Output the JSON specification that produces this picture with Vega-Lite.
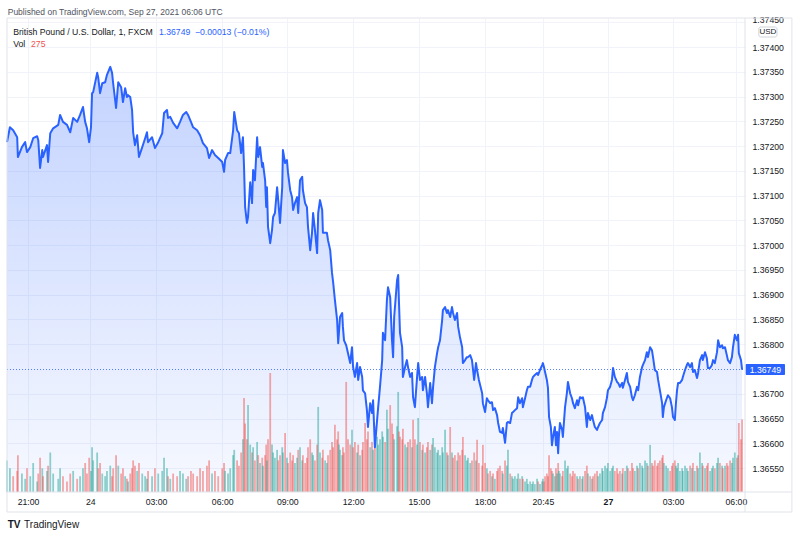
{
"$schema":"https://vega.github.io/schema/vega-lite/v6.json",
"width":738,"height":474,
"autosize":{"type":"none"},
"padding":{"left":7,"top":18,"right":55,"bottom":46},
"background":"#ffffff",
"config":{"view":{"stroke":null},"font":"Liberation Sans"},
"datasets":{"gbp":[
{"b":-58,"p":1.37208,"v":120,"u":1},{"b":-50,"p":1.37238,"v":90,"u":1},{"b":-41,"p":1.37232,"v":60,"u":0},{"b":-30,"p":1.37218,"v":80,"u":0},{"b":-28,"p":1.37178,"v":140,"u":0},{"b":-17,"p":1.37198,"v":70,"u":1},{"b":-8,"p":1.37208,"v":50,"u":1},{"b":-3,"p":1.37188,"v":90,"u":0},{"b":6,"p":1.37198,"v":60,"u":1},{"b":14,"p":1.37216,"v":110,"u":1},
{"b":25,"p":1.3722,"v":40,"u":1},{"b":28,"p":1.37212,"v":70,"u":0},{"b":33,"p":1.37156,"v":130,"u":0},{"b":39,"p":1.37192,"v":90,"u":1},{"b":41,"p":1.37178,"v":60,"u":0},{"b":52,"p":1.37202,"v":80,"u":1},{"b":55,"p":1.37168,"v":100,"u":0},{"b":61,"p":1.37226,"v":150,"u":1},{"b":69,"p":1.37236,"v":70,"u":1},{"b":83,"p":1.37243,"v":50,"u":1},
{"b":88,"p":1.37263,"v":90,"u":1},{"b":96,"p":1.37249,"v":60,"u":0},{"b":107,"p":1.37243,"v":40,"u":0},{"b":116,"p":1.37228,"v":70,"u":0},{"b":124,"p":1.37257,"v":80,"u":1},{"b":135,"p":1.37249,"v":50,"u":0},{"b":143,"p":1.37263,"v":60,"u":1},{"b":151,"p":1.37279,"v":90,"u":1},{"b":157,"p":1.37249,"v":110,"u":0},{"b":162,"p":1.37236,"v":70,"u":0},
{"b":168,"p":1.37208,"v":130,"u":0},{"b":173,"p":1.37238,"v":80,"u":1},{"b":176,"p":1.37307,"v":170,"u":1},{"b":179,"p":1.37309,"v":120,"u":1},{"b":190,"p":1.37348,"v":150,"u":1},{"b":193,"p":1.37338,"v":90,"u":0},{"b":198,"p":1.37307,"v":110,"u":0},{"b":204,"p":1.37327,"v":70,"u":1},{"b":212,"p":1.37329,"v":60,"u":1},{"b":217,"p":1.37344,"v":80,"u":1},
{"b":226,"p":1.3736,"v":100,"u":1},{"b":231,"p":1.37348,"v":60,"u":0},{"b":234,"p":1.37327,"v":90,"u":0},{"b":242,"p":1.37277,"v":140,"u":0},{"b":248,"p":1.37329,"v":100,"u":1},{"b":256,"p":1.37319,"v":70,"u":0},{"b":261,"p":1.37289,"v":90,"u":0},{"b":267,"p":1.37317,"v":60,"u":1},{"b":272,"p":1.37299,"v":50,"u":0},{"b":275,"p":1.37303,"v":40,"u":1},
{"b":281,"p":1.37299,"v":70,"u":0},{"b":286,"p":1.37273,"v":90,"u":0},{"b":289,"p":1.37228,"v":120,"u":0},{"b":294,"p":1.37202,"v":100,"u":0},{"b":300,"p":1.37222,"v":80,"u":1},{"b":305,"p":1.37178,"v":110,"u":0},{"b":314,"p":1.37198,"v":70,"u":1},{"b":322,"p":1.37216,"v":60,"u":1},{"b":327,"p":1.37228,"v":50,"u":1},{"b":330,"p":1.37208,"v":80,"u":0},
{"b":341,"p":1.37218,"v":60,"u":1},{"b":349,"p":1.37196,"v":90,"u":0},{"b":358,"p":1.37208,"v":70,"u":1},{"b":369,"p":1.37226,"v":80,"u":1},{"b":374,"p":1.37267,"v":130,"u":1},{"b":382,"p":1.37273,"v":90,"u":1},{"b":385,"p":1.37257,"v":60,"u":0},{"b":391,"p":1.37259,"v":50,"u":1},{"b":399,"p":1.37247,"v":70,"u":0},{"b":410,"p":1.37236,"v":60,"u":0},
{"b":418,"p":1.37249,"v":80,"u":1},{"b":426,"p":1.37263,"v":70,"u":1},{"b":435,"p":1.37269,"v":50,"u":1},{"b":440,"p":1.37263,"v":60,"u":0},{"b":448,"p":1.37249,"v":80,"u":0},{"b":454,"p":1.37238,"v":70,"u":0},{"b":465,"p":1.37232,"v":60,"u":0},{"b":473,"p":1.37222,"v":90,"u":0},{"b":481,"p":1.37206,"v":80,"u":0},{"b":492,"p":1.37196,"v":100,"u":0},
{"b":498,"p":1.37176,"v":120,"u":0},{"b":506,"p":1.37192,"v":70,"u":1},{"b":514,"p":1.37182,"v":80,"u":0},{"b":523,"p":1.37176,"v":60,"u":0},{"b":534,"p":1.37168,"v":90,"u":0},{"b":539,"p":1.37148,"v":110,"u":0},{"b":542,"p":1.37172,"v":80,"u":1},{"b":550,"p":1.37186,"v":70,"u":1},{"b":556,"p":1.37186,"v":90,"u":1},{"b":564,"p":1.37232,"v":140,"u":1},
{"b":567,"p":1.37269,"v":160,"u":1},{"b":575,"p":1.37232,"v":120,"u":0},{"b":580,"p":1.37226,"v":100,"u":0},{"b":586,"p":1.37186,"v":150,"u":0},{"b":591,"p":1.37218,"v":200,"u":1},{"b":594,"p":1.37158,"v":357,"u":0},{"b":597,"p":1.37077,"v":260,"u":0},{"b":602,"p":1.37045,"v":200,"u":0},{"b":605,"p":1.37057,"v":330,"u":1},{"b":611,"p":1.37127,"v":180,"u":1},
{"b":616,"p":1.37085,"v":150,"u":0},{"b":619,"p":1.37152,"v":170,"u":1},{"b":624,"p":1.37131,"v":120,"u":0},{"b":630,"p":1.37218,"v":190,"u":1},{"b":633,"p":1.37178,"v":140,"u":0},{"b":638,"p":1.37198,"v":110,"u":1},{"b":644,"p":1.37158,"v":130,"u":0},{"b":646,"p":1.37166,"v":100,"u":1},{"b":652,"p":1.37131,"v":140,"u":0},{"b":655,"p":1.37077,"v":180,"u":0},
{"b":657,"p":1.37117,"v":120,"u":1},{"b":660,"p":1.37037,"v":200,"u":0},{"b":666,"p":1.37004,"v":452,"u":0},{"b":671,"p":1.37031,"v":180,"u":1},{"b":674,"p":1.37057,"v":150,"u":1},{"b":679,"p":1.37065,"v":130,"u":1},{"b":685,"p":1.37117,"v":160,"u":1},{"b":688,"p":1.37091,"v":120,"u":0},{"b":693,"p":1.37045,"v":140,"u":0},{"b":699,"p":1.37117,"v":170,"u":1},
{"b":701,"p":1.37192,"v":150,"u":1},{"b":707,"p":1.37166,"v":224,"u":0},{"b":712,"p":1.37172,"v":130,"u":1},{"b":715,"p":1.37146,"v":110,"u":0},{"b":721,"p":1.37111,"v":150,"u":0},{"b":726,"p":1.37097,"v":120,"u":0},{"b":729,"p":1.37071,"v":140,"u":0},{"b":734,"p":1.37085,"v":110,"u":1},{"b":740,"p":1.37097,"v":130,"u":1},{"b":743,"p":1.37065,"v":160,"u":0},
{"b":748,"p":1.37131,"v":170,"u":1},{"b":754,"p":1.37138,"v":120,"u":1},{"b":756,"p":1.37111,"v":140,"u":0},{"b":762,"p":1.37085,"v":110,"u":0},{"b":767,"p":1.37077,"v":130,"u":0},{"b":770,"p":1.37037,"v":170,"u":0},{"b":776,"p":1.3699,"v":200,"u":0},{"b":781,"p":1.37025,"v":150,"u":1},{"b":784,"p":1.37065,"v":140,"u":1},{"b":789,"p":1.37031,"v":120,"u":0},
{"b":795,"p":1.36984,"v":180,"u":0},{"b":798,"p":1.37065,"v":323,"u":1},{"b":803,"p":1.37091,"v":150,"u":1},{"b":809,"p":1.37071,"v":130,"u":0},{"b":811,"p":1.37025,"v":160,"u":0},{"b":817,"p":1.37025,"v":120,"u":1},{"b":822,"p":1.37025,"v":110,"u":1},{"b":825,"p":1.3701,"v":140,"u":0},{"b":831,"p":1.3699,"v":160,"u":0},{"b":836,"p":1.36944,"v":190,"u":0},
{"b":839,"p":1.36926,"v":170,"u":0},{"b":844,"p":1.36889,"v":255,"u":0},{"b":850,"p":1.36849,"v":200,"u":0},{"b":853,"p":1.36802,"v":230,"u":0},{"b":855,"p":1.36823,"v":180,"u":1},{"b":858,"p":1.36855,"v":160,"u":1},{"b":864,"p":1.36863,"v":140,"u":1},{"b":866,"p":1.36835,"v":170,"u":0},{"b":869,"p":1.36808,"v":150,"u":0},{"b":875,"p":1.36798,"v":418,"u":0},
{"b":880,"p":1.36782,"v":200,"u":0},{"b":886,"p":1.36762,"v":180,"u":0},{"b":891,"p":1.36794,"v":236,"u":1},{"b":894,"p":1.36754,"v":170,"u":0},{"b":899,"p":1.36734,"v":190,"u":0},{"b":905,"p":1.36762,"v":150,"u":1},{"b":908,"p":1.36728,"v":180,"u":0},{"b":913,"p":1.36754,"v":140,"u":1},{"b":919,"p":1.36734,"v":160,"u":0},{"b":921,"p":1.36707,"v":190,"u":0},
{"b":927,"p":1.36701,"v":262,"u":0},{"b":932,"p":1.36667,"v":200,"u":0},{"b":935,"p":1.36633,"v":230,"u":0},{"b":941,"p":1.36681,"v":170,"u":1},{"b":946,"p":1.36661,"v":190,"u":0},{"b":949,"p":1.36687,"v":160,"u":1},{"b":954,"p":1.36592,"v":250,"u":0},{"b":960,"p":1.36647,"v":210,"u":1},{"b":963,"p":1.36673,"v":180,"u":1},{"b":968,"p":1.36714,"v":200,"u":1},
{"b":974,"p":1.36768,"v":230,"u":1},{"b":976,"p":1.36823,"v":210,"u":1},{"b":982,"p":1.36808,"v":190,"u":0},{"b":987,"p":1.36889,"v":312,"u":1},{"b":990,"p":1.36915,"v":240,"u":1},{"b":996,"p":1.36895,"v":330,"u":0},{"b":1001,"p":1.36808,"v":260,"u":0},{"b":1004,"p":1.36774,"v":220,"u":0},{"b":1007,"p":1.36855,"v":200,"u":1},{"b":1015,"p":1.3693,"v":250,"u":1},
{"b":1018,"p":1.3694,"v":380,"u":1},{"b":1020,"p":1.36889,"v":230,"u":0},{"b":1023,"p":1.36823,"v":210,"u":0},{"b":1029,"p":1.36794,"v":200,"u":0},{"b":1031,"p":1.36734,"v":240,"u":0},{"b":1037,"p":1.36754,"v":180,"u":1},{"b":1042,"p":1.36768,"v":170,"u":1},{"b":1045,"p":1.36754,"v":190,"u":0},{"b":1051,"p":1.36734,"v":200,"u":0},{"b":1056,"p":1.36742,"v":170,"u":1},
{"b":1059,"p":1.36693,"v":274,"u":0},{"b":1064,"p":1.36673,"v":200,"u":0},{"b":1070,"p":1.36734,"v":180,"u":1},{"b":1073,"p":1.36762,"v":281,"u":1},{"b":1078,"p":1.36728,"v":190,"u":0},{"b":1084,"p":1.36734,"v":160,"u":1},{"b":1086,"p":1.36707,"v":180,"u":0},{"b":1092,"p":1.36734,"v":150,"u":1},{"b":1097,"p":1.36701,"v":170,"u":0},{"b":1100,"p":1.36673,"v":190,"u":0},
{"b":1106,"p":1.36722,"v":160,"u":1},{"b":1111,"p":1.36681,"v":180,"u":0},{"b":1114,"p":1.36714,"v":205,"u":1},{"b":1119,"p":1.36754,"v":170,"u":1},{"b":1125,"p":1.36782,"v":150,"u":1},{"b":1128,"p":1.36794,"v":160,"u":1},{"b":1133,"p":1.36808,"v":140,"u":1},{"b":1139,"p":1.36849,"v":170,"u":1},{"b":1141,"p":1.36869,"v":150,"u":1},{"b":1147,"p":1.36875,"v":236,"u":1},
{"b":1152,"p":1.36863,"v":150,"u":0},{"b":1155,"p":1.36869,"v":140,"u":1},{"b":1161,"p":1.36855,"v":247,"u":0},{"b":1166,"p":1.36875,"v":150,"u":1},{"b":1169,"p":1.36863,"v":130,"u":0},{"b":1174,"p":1.36849,"v":140,"u":0},{"b":1180,"p":1.36863,"v":120,"u":1},{"b":1183,"p":1.36835,"v":150,"u":0},{"b":1188,"p":1.36814,"v":140,"u":0},{"b":1194,"p":1.36794,"v":160,"u":0},
{"b":1196,"p":1.36762,"v":209,"u":0},{"b":1202,"p":1.36768,"v":140,"u":1},{"b":1207,"p":1.36774,"v":120,"u":1},{"b":1210,"p":1.36774,"v":130,"u":1},{"b":1216,"p":1.36778,"v":110,"u":1},{"b":1221,"p":1.36768,"v":120,"u":0},{"b":1227,"p":1.36728,"v":150,"u":0},{"b":1232,"p":1.36762,"v":120,"u":1},{"b":1235,"p":1.36748,"v":198,"u":0},{"b":1240,"p":1.36728,"v":110,"u":0},
{"b":1249,"p":1.36701,"v":100,"u":0},{"b":1251,"p":1.36681,"v":179,"u":0},{"b":1257,"p":1.36663,"v":110,"u":0},{"b":1262,"p":1.36691,"v":90,"u":1},{"b":1265,"p":1.36687,"v":70,"u":0},{"b":1271,"p":1.36681,"v":80,"u":0},{"b":1276,"p":1.36683,"v":60,"u":1},{"b":1279,"p":1.36667,"v":70,"u":0},{"b":1284,"p":1.36671,"v":50,"u":1},{"b":1290,"p":1.36657,"v":80,"u":0},
{"b":1293,"p":1.36641,"v":90,"u":0},{"b":1298,"p":1.36623,"v":100,"u":0},{"b":1304,"p":1.36621,"v":80,"u":0},{"b":1306,"p":1.36631,"v":70,"u":1},{"b":1312,"p":1.36601,"v":120,"u":0},{"b":1317,"p":1.36641,"v":100,"u":1},{"b":1320,"p":1.36643,"v":160,"u":1},{"b":1326,"p":1.36641,"v":70,"u":0},{"b":1331,"p":1.36661,"v":60,"u":1},{"b":1334,"p":1.36663,"v":50,"u":1},
{"b":1339,"p":1.36667,"v":60,"u":1},{"b":1345,"p":1.36671,"v":50,"u":1},{"b":1348,"p":1.36693,"v":70,"u":1},{"b":1353,"p":1.36681,"v":50,"u":0},{"b":1359,"p":1.36691,"v":60,"u":1},{"b":1361,"p":1.36673,"v":50,"u":0},{"b":1367,"p":1.36691,"v":40,"u":1},{"b":1372,"p":1.36707,"v":50,"u":1},{"b":1375,"p":1.36714,"v":30,"u":1},{"b":1381,"p":1.36714,"v":40,"u":1},
{"b":1386,"p":1.36728,"v":30,"u":1},{"b":1389,"p":1.36734,"v":40,"u":1},{"b":1394,"p":1.36738,"v":30,"u":1},{"b":1400,"p":1.36742,"v":50,"u":1},{"b":1403,"p":1.36738,"v":40,"u":0},{"b":1408,"p":1.36748,"v":30,"u":1},{"b":1414,"p":1.36758,"v":40,"u":1},{"b":1416,"p":1.36762,"v":50,"u":1},{"b":1419,"p":1.36754,"v":40,"u":0},{"b":1422,"p":1.36744,"v":60,"u":0},
{"b":1427,"p":1.36728,"v":70,"u":0},{"b":1430,"p":1.36712,"v":60,"u":0},{"b":1433,"p":1.36653,"v":140,"u":0},{"b":1438,"p":1.36633,"v":90,"u":0},{"b":1441,"p":1.36596,"v":80,"u":0},{"b":1444,"p":1.36613,"v":70,"u":1},{"b":1449,"p":1.36633,"v":60,"u":1},{"b":1452,"p":1.36596,"v":90,"u":0},{"b":1455,"p":1.36623,"v":70,"u":1},{"b":1458,"p":1.3658,"v":110,"u":0},
{"b":1460,"p":1.36613,"v":80,"u":1},{"b":1463,"p":1.36641,"v":70,"u":1},{"b":1469,"p":1.36627,"v":60,"u":0},{"b":1471,"p":1.36613,"v":80,"u":0},{"b":1477,"p":1.36673,"v":120,"u":1},{"b":1482,"p":1.36701,"v":90,"u":1},{"b":1485,"p":1.36724,"v":100,"u":1},{"b":1491,"p":1.36701,"v":70,"u":0},{"b":1496,"p":1.36691,"v":60,"u":0},{"b":1499,"p":1.36681,"v":80,"u":0},
{"b":1504,"p":1.36671,"v":70,"u":0},{"b":1510,"p":1.36687,"v":60,"u":1},{"b":1513,"p":1.36677,"v":50,"u":0},{"b":1518,"p":1.36693,"v":60,"u":1},{"b":1524,"p":1.36691,"v":50,"u":0},{"b":1526,"p":1.36693,"v":60,"u":1},{"b":1532,"p":1.36673,"v":80,"u":0},{"b":1537,"p":1.36633,"v":100,"u":0},{"b":1540,"p":1.36661,"v":70,"u":1},{"b":1546,"p":1.36647,"v":60,"u":0},
{"b":1551,"p":1.36657,"v":50,"u":1},{"b":1554,"p":1.36647,"v":60,"u":0},{"b":1559,"p":1.36633,"v":70,"u":0},{"b":1565,"p":1.36627,"v":80,"u":0},{"b":1568,"p":1.36633,"v":60,"u":1},{"b":1573,"p":1.36641,"v":70,"u":1},{"b":1579,"p":1.36647,"v":90,"u":1},{"b":1581,"p":1.36661,"v":80,"u":1},{"b":1587,"p":1.36673,"v":100,"u":1},{"b":1592,"p":1.36691,"v":90,"u":1},
{"b":1595,"p":1.36707,"v":110,"u":1},{"b":1601,"p":1.36714,"v":80,"u":1},{"b":1606,"p":1.36728,"v":90,"u":1},{"b":1609,"p":1.36752,"v":100,"u":1},{"b":1614,"p":1.36734,"v":80,"u":0},{"b":1620,"p":1.36724,"v":90,"u":0},{"b":1623,"p":1.36722,"v":70,"u":0},{"b":1628,"p":1.36714,"v":80,"u":0},{"b":1634,"p":1.36722,"v":70,"u":1},{"b":1636,"p":1.36712,"v":90,"u":0},
{"b":1642,"p":1.36728,"v":80,"u":1},{"b":1647,"p":1.36742,"v":100,"u":1},{"b":1650,"p":1.36724,"v":90,"u":0},{"b":1656,"p":1.36714,"v":80,"u":0},{"b":1661,"p":1.36693,"v":110,"u":0},{"b":1664,"p":1.36687,"v":90,"u":0},{"b":1669,"p":1.36697,"v":80,"u":1},{"b":1675,"p":1.36714,"v":100,"u":1},{"b":1678,"p":1.36707,"v":90,"u":0},{"b":1683,"p":1.36734,"v":110,"u":1},
{"b":1689,"p":1.36754,"v":100,"u":1},{"b":1691,"p":1.36758,"v":90,"u":1},{"b":1697,"p":1.36768,"v":120,"u":1},{"b":1702,"p":1.36784,"v":110,"u":1},{"b":1705,"p":1.36774,"v":100,"u":0},{"b":1711,"p":1.36794,"v":179,"u":1},{"b":1716,"p":1.36788,"v":110,"u":0},{"b":1719,"p":1.36774,"v":100,"u":0},{"b":1724,"p":1.36748,"v":120,"u":0},{"b":1730,"p":1.36744,"v":100,"u":0},
{"b":1733,"p":1.36728,"v":110,"u":0},{"b":1738,"p":1.36707,"v":120,"u":0},{"b":1744,"p":1.36681,"v":130,"u":0},{"b":1746,"p":1.36653,"v":140,"u":0},{"b":1749,"p":1.36673,"v":110,"u":1},{"b":1755,"p":1.36687,"v":100,"u":1},{"b":1760,"p":1.36697,"v":90,"u":1},{"b":1766,"p":1.36691,"v":80,"u":0},{"b":1771,"p":1.36673,"v":100,"u":0},{"b":1774,"p":1.36653,"v":110,"u":0},
{"b":1779,"p":1.36647,"v":120,"u":0},{"b":1782,"p":1.36681,"v":100,"u":1},{"b":1785,"p":1.36707,"v":90,"u":1},{"b":1788,"p":1.36722,"v":110,"u":1},{"b":1793,"p":1.36722,"v":80,"u":1},{"b":1799,"p":1.36728,"v":90,"u":1},{"b":1801,"p":1.36734,"v":80,"u":1},{"b":1807,"p":1.36748,"v":100,"u":1},{"b":1812,"p":1.36758,"v":90,"u":1},{"b":1815,"p":1.36762,"v":80,"u":1},
{"b":1821,"p":1.36754,"v":100,"u":0},{"b":1826,"p":1.36762,"v":90,"u":1},{"b":1829,"p":1.36744,"v":110,"u":0},{"b":1834,"p":1.36748,"v":80,"u":1},{"b":1840,"p":1.36732,"v":100,"u":0},{"b":1843,"p":1.36742,"v":90,"u":1},{"b":1848,"p":1.36768,"v":150,"u":1},{"b":1854,"p":1.36778,"v":110,"u":1},{"b":1856,"p":1.36768,"v":100,"u":0},{"b":1862,"p":1.36784,"v":90,"u":1},
{"b":1867,"p":1.36772,"v":100,"u":0},{"b":1870,"p":1.36752,"v":110,"u":0},{"b":1876,"p":1.36752,"v":80,"u":1},{"b":1881,"p":1.36758,"v":90,"u":1},{"b":1884,"p":1.36768,"v":100,"u":1},{"b":1889,"p":1.36762,"v":90,"u":0},{"b":1895,"p":1.36784,"v":110,"u":1},{"b":1898,"p":1.36808,"v":130,"u":1},{"b":1903,"p":1.36794,"v":110,"u":0},{"b":1909,"p":1.36798,"v":100,"u":1},
{"b":1911,"p":1.36792,"v":90,"u":0},{"b":1917,"p":1.36794,"v":100,"u":1},{"b":1922,"p":1.36778,"v":110,"u":0},{"b":1925,"p":1.36768,"v":100,"u":0},{"b":1931,"p":1.36762,"v":120,"u":0},{"b":1936,"p":1.36774,"v":110,"u":1},{"b":1939,"p":1.36794,"v":130,"u":1},{"b":1944,"p":1.36819,"v":150,"u":1},{"b":1950,"p":1.36808,"v":130,"u":0},{"b":1953,"p":1.36819,"v":140,"u":1},
{"b":1955,"p":1.36782,"v":262,"u":0},{"b":1961,"p":1.36768,"v":200,"u":0},{"b":1964,"p":1.36749,"v":275,"u":0}
]},
"data":{"name":"gbp"},
"layer":[
{"mark":{"type":"area","line":false,"color":{"gradient":"linear","x1":0,"y1":0,"x2":0,"y2":1,"stops":[{"offset":0,"color":"rgba(41,98,255,0.28)"},{"offset":1,"color":"rgba(41,98,255,0.04)"}]}},
 "encoding":{
  "x":{"field":"b","type":"quantitative","scale":{"domain":[-58,1972],"nice":false,"zero":false,"padding":0},
   "axis":{"orient":"bottom","values":[0,171,352,534,713,894,1075,1257,1416,1595,1774,1947],
    "labelExpr":"['21:00','24','03:00','06:00','09:00','12:00','15:00','18:00','20:45','27','03:00','06:00'][indexof([0,171,352,534,713,894,1075,1257,1416,1595,1774,1947], datum.value)]",
    "labelFontWeight":{"condition":{"test":"datum.value == 1595","value":"bold"},"value":"normal"},
    "title":null,"domain":false,"ticks":false,"labelPadding":5,"labelFontSize":8.7,"labelColor":"#131722","labelFlush":false,"labelOverlap":false,
    "grid":true,"gridColor":"#f0f3fa","gridWidth":1}},
  "y":{"field":"p","type":"quantitative","scale":{"domain":[1.365017,1.374587],"nice":false,"zero":false},
   "axis":{"orient":"right","values":[1.3655,1.366,1.3665,1.367,1.368,1.3685,1.369,1.3695,1.37,1.3705,1.371,1.3715,1.372,1.3725,1.373,1.3735,1.374,1.3745],
    "format":".5f","title":null,"domain":false,"ticks":false,"labelPadding":7,"labelFontSize":8.7,"labelColor":"#131722","labelAlign":"left","labelOverlap":false,"labelFlush":false,
    "labelOffset":{"condition":{"test":"datum.value > 1.3744","value":-3},"value":0},
    "grid":true,"gridColor":"#f0f3fa","gridWidth":1}},
  "y2":{"datum":1.365017}
 }},
{"mark":{"type":"bar","width":1.8,"opacity":0.5},
 "encoding":{
  "x":{"field":"b","type":"quantitative","scale":{"domain":[-58,1972],"nice":false,"zero":false,"padding":0}},
  "y":{"field":"v","type":"quantitative","scale":{"domain":[0,1800],"nice":false},"axis":null},
  "color":{"field":"u","type":"nominal","scale":{"domain":[1,0],"range":["#26a69a","#ef5350"]},"legend":null}
 }},
{"layer":[
 {"mark":{"type":"line","color":"#2962ff","strokeWidth":2,"strokeJoin":"round"},
  "encoding":{
   "x":{"field":"b","type":"quantitative","scale":{"domain":[-58,1972],"nice":false,"zero":false,"padding":0}},
   "y":{"field":"p","type":"quantitative","scale":{"domain":[1.365017,1.374587],"nice":false,"zero":false},"axis":null}
  }},
 {"data":{"values":[{}]},"mark":{"type":"rule","color":"#2962ff","strokeDash":[1,2],"strokeWidth":1,"opacity":0.8},
  "encoding":{"x":{"datum":-58},"x2":{"datum":1972},"y":{"datum":1.36749,"axis":null}}},
 {"data":{"values":[{}]},"mark":{"type":"rule","color":"#e0e3eb","strokeWidth":1},
  "encoding":{"x":{"datum":-58},"y":{"datum":1.374587,"axis":null},"y2":{"datum":1.364613}}},
 {"data":{"values":[{}]},"mark":{"type":"rule","color":"#e0e3eb","strokeWidth":1},
  "encoding":{"x":{"datum":1972},"y":{"datum":1.374587,"axis":null},"y2":{"datum":1.364613}}},
 {"data":{"values":[{}]},"mark":{"type":"rule","color":"#e0e3eb","strokeWidth":1},
  "encoding":{"x":{"datum":2101},"y":{"datum":1.374587,"axis":null},"y2":{"datum":1.364613}}},
 {"data":{"values":[{}]},"mark":{"type":"rule","color":"#e0e3eb","strokeWidth":1},
  "encoding":{"x":{"datum":-58},"x2":{"datum":2101},"y":{"datum":1.374587,"axis":null}}},
 {"data":{"values":[{}]},"mark":{"type":"rule","color":"#e0e3eb","strokeWidth":1},
  "encoding":{"x":{"datum":-58},"x2":{"datum":2101},"y":{"datum":1.365017,"axis":null}}},
 {"data":{"values":[{}]},"mark":{"type":"rule","color":"#e0e3eb","strokeWidth":1},
  "encoding":{"x":{"datum":-58},"x2":{"datum":2101},"y":{"datum":1.364613,"axis":null}}},
 {"data":{"values":[{}]},"mark":{"type":"rect","color":"#2962ff","cornerRadius":1},
  "encoding":{"x":{"datum":1974},"x2":{"datum":2082},"y":{"datum":1.367601,"axis":null},"y2":{"datum":1.367379}}},
 {"data":{"values":[{}]},"mark":{"type":"text","text":"1.36749","color":"#ffffff","fontSize":8.7,"align":"center","baseline":"middle"},
  "encoding":{"x":{"datum":2028},"y":{"datum":1.36749,"axis":null}}},
 {"data":{"values":[{}]},"mark":{"type":"rect","fill":"#ffffff","stroke":"#d1d4dc","strokeWidth":1,"cornerRadius":2},
  "encoding":{"x":{"datum":2010},"x2":{"datum":2060},"y":{"datum":1.374405,"axis":null},"y2":{"datum":1.374203}}},
 {"data":{"values":[{}]},"mark":{"type":"text","text":"USD","color":"#131722","fontSize":8,"align":"center","baseline":"middle"},
  "encoding":{"x":{"datum":2035},"y":{"datum":1.374304,"axis":null}}},
 {"data":{"values":[{}]},"mark":{"type":"text","text":"Published on TradingView.com, Sep 27, 2021 06:06 UTC","color":"#50535e","fontSize":8.5,"align":"left","baseline":"middle"},
  "encoding":{"x":{"datum":-56},"y":{"datum":1.374708,"axis":null}}},
 {"data":{"values":[{}]},"mark":{"type":"text","text":"British Pound / U.S. Dollar, 1, FXCM","color":"#131722","fontSize":8.7,"align":"left","baseline":"middle"},
  "encoding":{"x":{"datum":-41},"y":{"datum":1.374314,"axis":null}}},
 {"data":{"values":[{}]},"mark":{"type":"text","text":"1.36749","color":"#2962ff","fontSize":8.7,"align":"left","baseline":"middle"},
  "encoding":{"x":{"datum":360},"y":{"datum":1.374314,"axis":null}}},
 {"data":{"values":[{}]},"mark":{"type":"text","text":"−0.00013 (−0.01%)","color":"#2962ff","fontSize":8.7,"align":"left","baseline":"middle"},
  "encoding":{"x":{"datum":459},"y":{"datum":1.374314,"axis":null}}},
 {"data":{"values":[{}]},"mark":{"type":"text","text":"Vol","color":"#131722","fontSize":8.7,"align":"left","baseline":"middle"},
  "encoding":{"x":{"datum":-41},"y":{"datum":1.374072,"axis":null}}},
 {"data":{"values":[{}]},"mark":{"type":"text","text":"275","color":"#ef5350","fontSize":8.7,"align":"left","baseline":"middle"},
  "encoding":{"x":{"datum":8},"y":{"datum":1.374072,"axis":null}}},
 {"data":{"values":[{}]},"mark":{"type":"text","text":"TV","color":"#131722","fontSize":10,"fontWeight":900,"align":"left","baseline":"middle"},
  "encoding":{"x":{"datum":-56},"y":{"datum":1.36435,"axis":null}}},
 {"data":{"values":[{}]},"mark":{"type":"text","text":"TradingView","color":"#131722","fontSize":10,"align":"left","baseline":"middle"},
  "encoding":{"x":{"datum":-11},"y":{"datum":1.36435,"axis":null}}}
]}
],
"resolve":{"scale":{"y":"independent"}}
}
